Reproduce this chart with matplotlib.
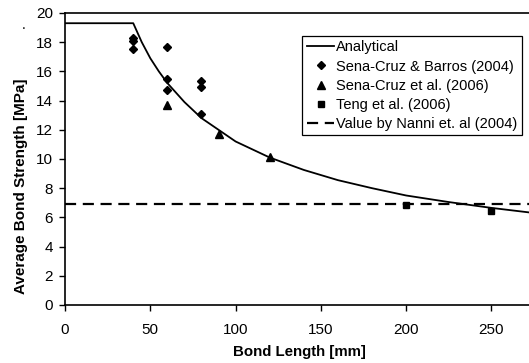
import matplotlib

matplotlib.use("Agg")
import matplotlib.pyplot as plt
from matplotlib.legend_handler import HandlerLine2D

plt.rcParams["font.family"] = ["Liberation Sans", "DejaVu Sans"]

# analytical curve
curve_x = [0, 40, 45, 50, 55, 60, 70, 80, 90, 100, 120, 140, 160, 180, 200, 225, 250, 275]
curve_y = [19.3, 19.3, 18.0, 16.9, 16.0, 15.2, 13.9, 12.8, 12.0, 11.2, 10.1, 9.25, 8.55, 8.0, 7.5, 7.05, 6.65, 6.3]

# Sena-Cruz & Barros (2004)
scb_x = [40, 40, 40, 60, 60, 60, 80, 80, 80]
scb_y = [18.3, 18.05, 17.5, 17.7, 15.45, 14.7, 15.35, 14.9, 13.05]

# Sena-Cruz et al. (2006)
sc_x = [60, 90, 120]
sc_y = [13.7, 11.7, 10.15]

# Teng et al. (2006)
teng_x = [200, 250]
teng_y = [6.85, 6.45]

nanni_value = 6.9


class LeftMarker(HandlerLine2D):
    # excel-style legend: marker sits near the left of the handle
    def get_xdata(self, legend, xdescent, ydescent, width, height, fontsize):
        xdata, _ = super().get_xdata(legend, xdescent, ydescent, width, height, fontsize)
        return xdata, [0.22 * width - xdescent]


fig = plt.figure(figsize=(5.29, 3.63), dpi=100)
ax = fig.add_axes([0.1229, 0.1598, 0.8771, 0.8044])

ax.plot(curve_x, curve_y, color="black", lw=1.3, label="Analytical")
m1, = ax.plot(scb_x, scb_y, ls="none", marker="D", ms=4.4, color="black", label="Sena-Cruz & Barros (2004)")
m2, = ax.plot(sc_x, sc_y, ls="none", marker="^", ms=5.5, color="black", label="Sena-Cruz et al. (2006)")
m3, = ax.plot(teng_x, teng_y, ls="none", marker="s", ms=5, color="black", label="Teng et al. (2006)")
ax.axhline(nanni_value, color="black", lw=1.6, ls=(0, (5, 3)), label="Value by Nanni et. al (2004)")

ax.set_xlim(0, 272)
ax.set_ylim(0, 20)
ax.set_xticks([0, 50, 100, 150, 200, 250])
ax.set_yticks(range(0, 21, 2))
ax.tick_params(direction="out", length=4, width=1, labelsize=11)
ax.tick_params(axis="x", pad=9)
ax.tick_params(axis="y", pad=4.5)
ax.spines["right"].set_visible(False)
for s in ("left", "bottom", "top"):
    ax.spines[s].set_linewidth(1.2)

ax.set_xlabel("Bond Length [mm]", fontsize=10.8, fontweight="bold")
ax.set_ylabel("Average Bond Strength [MPa]", fontsize=11, fontweight="bold")
ax.xaxis.set_label_coords(0.506, -0.137)
ax.yaxis.set_label_coords(-0.079, 0.406)

left = LeftMarker(numpoints=1)
leg = ax.legend(loc="upper right", bbox_to_anchor=(0.984, 0.921), fontsize=10.5,
                frameon=True, fancybox=False, edgecolor="black", framealpha=1,
                borderpad=0.3, labelspacing=0.35, handlelength=1.9, handletextpad=0.1,
                borderaxespad=0, handler_map={m1: left, m2: left, m3: left})
leg.get_frame().set_linewidth(0.9)

fig.text(0.044, 0.93, ".", fontsize=10, ha="center", va="center")

fig.savefig("out.png", dpi=100)
